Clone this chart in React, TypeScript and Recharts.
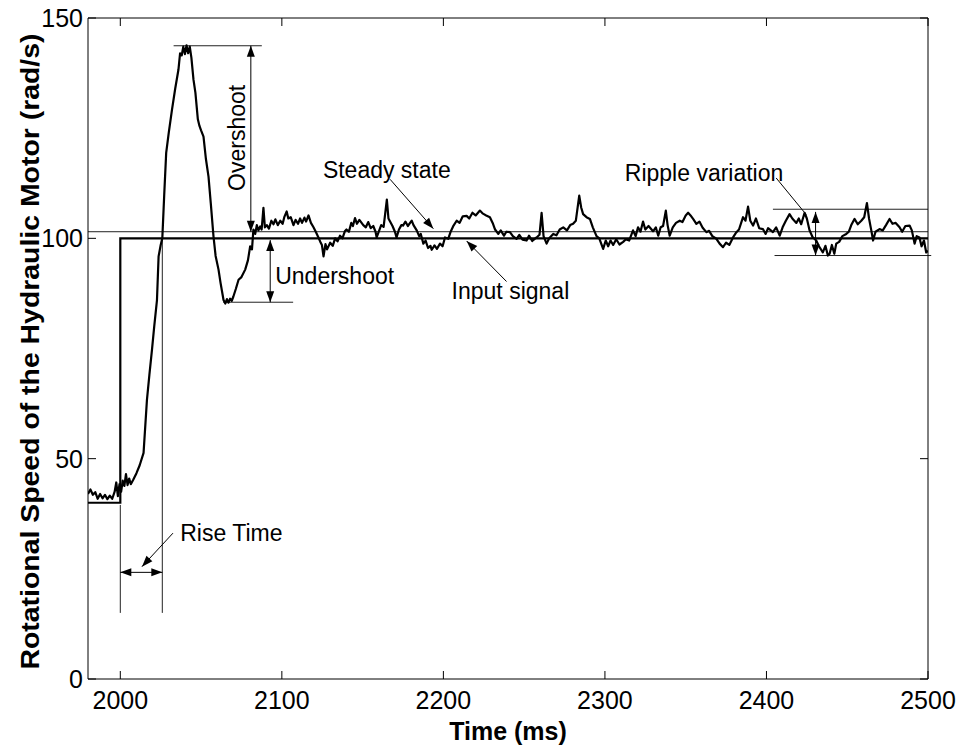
import React from "react";
import { LineChart, Line, XAxis, YAxis, ReferenceLine, ReferenceDot } from "recharts";

// measured response (ms, rad/s)
const respTime = [
  1980, 1981.5, 1983, 1984.5, 1986, 1987.5, 1989, 1990.5, 1992, 1993.5, 1995, 1996.5, 1997.5, 1998.5, 1999.5,
  2000.5, 2001.5, 2002.5, 2003.5, 2004.5, 2005.5, 2006.5, 2008, 2010, 2012, 2014.4, 2016.5, 2018, 2019.6, 2021,
  2022.7, 2023.7, 2025, 2026, 2027.2, 2028.4, 2030, 2032, 2034, 2036, 2037, 2038, 2039, 2040, 2041, 2042, 2043,
  2044, 2045.3, 2046.5, 2048, 2049, 2050, 2051.5, 2053, 2054.6, 2056, 2057.7, 2059, 2060.8, 2062, 2063.9, 2065,
  2066, 2067, 2068, 2069, 2070, 2071.5, 2073.2, 2075, 2077.3, 2079, 2080.4, 2081.5, 2082.4, 2083.5, 2084.5,
  2085.5, 2086.6, 2087.5, 2088.6, 2089.5, 2090.7, 2092, 2093.5, 2094.8, 2096, 2097.5, 2099, 2100.5, 2101.5, 2103,
  2104, 2105.5, 2107.2, 2108.5, 2110, 2111.3, 2112.5, 2114, 2115, 2116.5, 2118, 2119.6, 2121, 2122.5, 2123.7,
  2124.8, 2125.8, 2127, 2128, 2129.9, 2131.5, 2133, 2134.5, 2136, 2137.5, 2139, 2140, 2141.5, 2143, 2144, 2145.3,
  2146.5, 2148, 2150.4, 2152, 2153.5, 2155, 2156.6, 2158, 2158.7, 2160, 2161.5, 2163, 2165, 2166, 2167, 2168.5,
  2170, 2171, 2172.5, 2174, 2175, 2176.5, 2178, 2180.4, 2181.5, 2183.5, 2185, 2186, 2187.6, 2189, 2190.5, 2192,
  2192.8, 2194.5, 2196, 2197.9, 2199.5, 2201, 2203, 2204.5, 2206, 2208.2, 2210, 2212, 2214.4, 2216, 2218, 2220,
  2222.6, 2224.5, 2226.5, 2228.8, 2230.5, 2232, 2234, 2235.5, 2237.5, 2239, 2241.2, 2243, 2245.3, 2247, 2249,
  2251.5, 2253, 2255, 2257.7, 2259.5, 2260.8, 2262, 2263.9, 2265.5, 2268, 2270, 2272, 2274.2, 2276.5, 2278.5,
  2280.3, 2282, 2284.1, 2285.3, 2286.5, 2288.6, 2290.7, 2292.5, 2294.8, 2296.5, 2298.9, 2300.5, 2302, 2303.5,
  2305.1, 2307, 2309, 2311.3, 2313, 2315, 2317.4, 2319, 2320.5, 2322, 2323.6, 2325, 2327, 2329.8, 2331.5, 2333,
  2334.5, 2336, 2337.7, 2338.8, 2340.1, 2342, 2344, 2346.3, 2348, 2350, 2351.5, 2353, 2354.8, 2356.6, 2358.5,
  2360.5, 2362.8, 2364.5, 2366.5, 2369, 2371, 2373.1, 2375, 2377, 2379.3, 2381, 2383, 2385.5, 2387, 2388.6, 2390,
  2391.7, 2393.5, 2395.5, 2397.8, 2399.5, 2401, 2404, 2406, 2408.2, 2410, 2412, 2414.3, 2416, 2418.5, 2420,
  2421.5, 2423.6, 2425, 2426.7, 2428.5, 2430.8, 2432.5, 2434.9, 2436.5, 2438, 2439.1, 2440.5, 2442, 2443.2, 2445,
  2447, 2449.4, 2451, 2452.5, 2454.5, 2456.5, 2458.7, 2460.5, 2462.2, 2463.5, 2464.9, 2466, 2467.5, 2470, 2472,
  2474, 2476.2, 2478, 2480, 2482.4, 2484, 2486, 2488.6, 2490, 2491.7, 2493, 2494.7, 2496, 2497.5, 2498.9, 2500,
];
const respSpeed = [
  42.0, 43.0, 41.8, 42.4, 40.9, 42.0, 41.0, 41.8, 40.8, 41.6, 40.9, 42.5, 44.6, 41.5, 44.2,
  42.5, 45.0, 43.8, 46.5, 44.0, 45.5, 44.2, 45.2, 46.7, 48.5, 51.3, 63.4, 69, 74.7, 80,
  86, 95.9, 98.5, 100, 110, 119.4, 124, 129.2, 134, 138.3, 142, 141.5, 143.5, 141.8, 143.8, 142, 143.5,
  141, 136, 133, 127, 125.5, 124.5, 123.1, 118, 114, 108, 100.4, 96, 92.9, 90, 86, 85.2,
  86.2, 85.4, 86.3, 85.8, 86.8, 88.5, 90.6, 91.2, 92.9, 95, 98.2, 97.5, 102, 101, 103,
  101.8, 102.7, 102, 106.9, 102.5, 103, 102.2, 104, 103.2, 104.3, 103, 104, 103.3, 104.8, 106.1,
  104.5, 104.8, 103, 104.2, 103.3, 104.5, 103.5, 104.7, 103.8, 105.2, 103.5, 102.5, 101.5, 100.3, 99.3,
  98.5, 95.9, 98.7, 97.5, 99, 98.3, 100, 99.3, 100.6, 100, 101.6, 102, 101.5, 103.5, 102.8, 104.6,
  103.3, 104.2, 103, 102.5, 103.7, 102.3, 102.8, 101.5, 100.2, 101.5, 103, 102.6, 108.8, 104.5, 103.8, 102.8,
  101.5, 100.2, 102, 103, 102.9, 103.8, 102.8, 104, 103, 101.8, 100.5, 101, 98.8, 99.5, 97.8, 98.3,
  97.4, 98.4, 97.6, 98.8, 98.2, 100.2, 99.9, 101.5, 102.7, 104, 103.5, 105, 105.1, 104.5, 105.8, 105.2,
  106.3, 105.6, 105.2, 104.8, 103.5, 102, 101, 101.8, 100.6, 101.5, 101.4, 100.5, 99.9, 100.8, 99.7,
  99.5, 100.6, 99.4, 100.2, 100.8, 105.8, 100.5, 98.8, 100, 101, 100.7, 102, 102.5, 101.8, 103,
  103.3, 104, 109.7, 107, 105.5, 104.8, 104.4, 102.5, 100.5, 100, 97.6, 99.5, 98.2, 99.5,
  98.5, 99.8, 98.6, 99.2, 99.8, 99.5, 101.8, 100.5, 102.5, 101.5, 103.8, 102, 102.8, 101.6, 102.5, 100.6,
  102.5, 102.8, 106.3, 103, 100.6, 102.5, 103.5, 104, 103.7, 105.2, 105.8, 105.2, 104.3, 103.3, 103.8,
  102.4, 101.4, 101.7, 100.5, 99.9, 98.8, 98, 99, 98.5, 100.2, 101.2, 102, 104.8, 104, 107.2, 104,
  102.9, 104.5, 102.3, 102.1, 101, 102.3, 101.4, 102.5, 100.6, 102.5, 104, 105.5, 104.5, 103.5, 104.5,
  103.2, 105.8, 104.5, 101.8, 100.3, 99.5, 98.2, 96.8, 98.3, 96.1, 96.5, 98.5, 96.5, 98.8, 99.2,
  100.5, 101, 101.5, 103, 104.4, 103.2, 104, 104.8, 108, 104.5, 101.8, 99.5, 101.5, 102.1, 101.8,
  103, 104.4, 103.3, 103.5, 102.5, 101.5, 102.8, 102.9, 101.8, 98.8, 100.5, 100.2, 98.2, 99.5, 96.8, 97.2,
];

// reference step input
const inputTime = [1980, 2000, 2000, 2500];
const inputSpeed = [40, 40, 100, 100];

const xTicks = [2000, 2100, 2200, 2300, 2400, 2500];
const yTicks = [0, 50, 100, 150];

const steadyLevel = 101.5;

const response = respTime.map((t, i) => ({ t, v: respSpeed[i] }));
const input = inputTime.map((t, i) => ({ t, v: inputSpeed[i] }));

const FONT = "Arial, 'Liberation Sans', sans-serif";

// chart fills the page; plot box follows from margins + axis sizes
const W = 961;
const H = 748;
const BOX = { left: 88, top: 18, right: 928, bottom: 679 };
const TICK = 8;

function head(x: number, y: number, fx: number, fy: number) {
  // arrowhead with tip at (x,y) pointing away from (fx,fy)
  const dx = x - fx;
  const dy = y - fy;
  const len = Math.hypot(dx, dy) || 1;
  const ux = dx / len;
  const uy = dy / len;
  const L = 11;
  const w = 4;
  const bx = x - ux * L;
  const by = y - uy * L;
  return `${x},${y} ${bx - uy * w},${by + ux * w} ${bx + uy * w},${by - ux * w}`;
}

const arrow = (start: boolean, end: boolean) => (p: any) => (
  <g>
    <line x1={p.x1} y1={p.y1} x2={p.x2} y2={p.y2} stroke="#000" strokeWidth={1} />
    {start && <polygon points={head(p.x1, p.y1, p.x2, p.y2)} fill="#000" />}
    {end && <polygon points={head(p.x2, p.y2, p.x1, p.y1)} fill="#000" />}
  </g>
);

const thin = (p: any) => <line x1={p.x1} y1={p.y1} x2={p.x2} y2={p.y2} stroke="#222" strokeWidth={1} />;

const note = (text: string, rotate = false) => (p: any) => (
  <text
    x={p.cx}
    y={p.cy}
    fontFamily={FONT}
    fontSize={23}
    fill="#000"
    dominantBaseline="central"
    textAnchor={rotate ? "middle" : "start"}
    transform={rotate ? `rotate(-90, ${p.cx}, ${p.cy})` : undefined}
  >
    {text}
  </text>
);

// inward MATLAB-style ticks on all four sides
const XTick = (p: any) => (
  <g>
    <line x1={p.x} x2={p.x} y1={BOX.bottom} y2={BOX.bottom - TICK} stroke="#000" />
    <line x1={p.x} x2={p.x} y1={BOX.top} y2={BOX.top + TICK} stroke="#000" />
    <text x={p.x} y={BOX.bottom + 30} textAnchor="middle" fontFamily={FONT} fontSize={25} fill="#000">
      {p.payload.value}
    </text>
  </g>
);

const YTick = (p: any) => (
  <g>
    <line x1={BOX.left} x2={BOX.left + TICK} y1={p.y} y2={p.y} stroke="#000" />
    <line x1={BOX.right} x2={BOX.right - TICK} y1={p.y} y2={p.y} stroke="#000" />
    <text x={BOX.left - 5} y={p.y + 9} textAnchor="end" fontFamily={FONT} fontSize={25} fill="#000">
      {p.payload.value}
    </text>
  </g>
);

export default function App() {
  return (
    <>
      <style>{"body{margin:0;overflow:hidden}"}</style>
      <LineChart width={W} height={H} margin={{ top: 17, right: 32, bottom: 0, left: 8 }}>
        <XAxis
          type="number"
          dataKey="t"
          domain={[1980, 2500]}
          ticks={xTicks}
          allowDataOverflow
          height={69}
          stroke="#000"
          tickLine={false}
          tick={XTick}
          label={{
            content: (p: any) => (
              <text
                x={p.viewBox.x + p.viewBox.width / 2}
                y={p.viewBox.y + 60.5}
                textAnchor="middle"
                fontFamily={FONT}
                fontWeight="bold"
                fontSize={25}
                fill="#000"
              >
                Time (ms)
              </text>
            ),
          }}
        />
        <XAxis
          xAxisId="top"
          orientation="top"
          type="number"
          dataKey="t"
          domain={[1980, 2500]}
          allowDataOverflow
          height={1}
          stroke="#000"
          tickLine={false}
          tick={false}
        />
        <YAxis
          type="number"
          domain={[0, 150]}
          ticks={yTicks}
          width={80}
          stroke="#000"
          tickLine={false}
          tick={YTick}
          label={{
            content: (p: any) => {
              const x = 39;
              const y = p.viewBox.y + p.viewBox.height / 2 + 3;
              return (
                <text
                  x={x}
                  y={y}
                  transform={`rotate(-90, ${x}, ${y})`}
                  textAnchor="middle"
                  fontFamily={FONT}
                  fontWeight="bold"
                  fontSize={26}
                  textLength={636}
                  lengthAdjust="spacingAndGlyphs"
                  fill="#000"
                >
                  Rotational Speed of the Hydraulic Motor (rad/s)
                </text>
              );
            },
          }}
        />
        <YAxis
          yAxisId="right"
          orientation="right"
          type="number"
          domain={[0, 150]}
          width={1}
          stroke="#000"
          tickLine={false}
          tick={false}
        />

        <ReferenceLine y={steadyLevel} shape={thin} />

        <ReferenceLine segment={[{ x: 2033, y: 143.7 }, { x: 2087.6, y: 143.7 }]} shape={thin} />
        <ReferenceLine segment={[{ x: 2063.7, y: 85.5 }, { x: 2107, y: 85.5 }]} shape={thin} />
        <ReferenceLine segment={[{ x: 2000, y: 39.5 }, { x: 2000, y: 15 }]} shape={thin} />
        <ReferenceLine segment={[{ x: 2026, y: 100 }, { x: 2026, y: 15 }]} shape={thin} />
        <ReferenceLine segment={[{ x: 2404, y: 106.6 }, { x: 2500, y: 106.6 }]} shape={thin} />
        <ReferenceLine segment={[{ x: 2405, y: 96.1 }, { x: 2502, y: 96.1 }]} shape={thin} ifOverflow="visible" />

        <ReferenceLine segment={[{ x: 2080.8, y: 143.7 }, { x: 2080.8, y: steadyLevel }]} shape={arrow(true, true)} />
        <ReferenceLine segment={[{ x: 2092.8, y: 99.6 }, { x: 2092.8, y: 85.5 }]} shape={arrow(true, true)} />
        <ReferenceLine segment={[{ x: 2430.4, y: 106.0 }, { x: 2430.4, y: 96.1 }]} shape={arrow(true, true)} />
        <ReferenceLine segment={[{ x: 2000, y: 24.2 }, { x: 2026, y: 24.2 }]} shape={arrow(true, true)} />

        <ReferenceLine segment={[{ x: 2167, y: 113.4 }, { x: 2193.8, y: 102.2 }]} shape={arrow(false, true)} />
        <ReferenceLine segment={[{ x: 2239.1, y: 90.2 }, { x: 2214.4, y: 99.4 }]} shape={arrow(false, true)} />
        <ReferenceLine segment={[{ x: 2406, y: 113.7 }, { x: 2424.6, y: 105.4 }]} shape={arrow(false, false)} />
        <ReferenceLine segment={[{ x: 2032.6, y: 33.1 }, { x: 2013.4, y: 25.5 }]} shape={arrow(false, true)} />

        <Line
          data={input}
          dataKey="v"
          type="linear"
          stroke="#000"
          strokeWidth={2.2}
          dot={false}
          isAnimationActive={false}
        />
        <Line
          data={response}
          dataKey="v"
          type="linear"
          stroke="#000"
          strokeWidth={2.2}
          strokeLinejoin="round"
          dot={false}
          isAnimationActive={false}
        />

        <ReferenceDot x={2072.2} y={122.8} r={0} shape={note("Overshoot", true)} />
        <ReferenceDot x={2095.9} y={91.4} r={0} shape={note("Undershoot")} />
        <ReferenceDot x={2125.4} y={115.4} r={0} shape={note("Steady state")} />
        <ReferenceDot x={2205.1} y={88.0} r={0} shape={note("Input signal")} />
        <ReferenceDot x={2312.3} y={114.8} r={0} shape={note("Ripple variation")} />
        <ReferenceDot x={2037.1} y={33.1} r={0} shape={note("Rise Time")} />
      </LineChart>
    </>
  );
}
